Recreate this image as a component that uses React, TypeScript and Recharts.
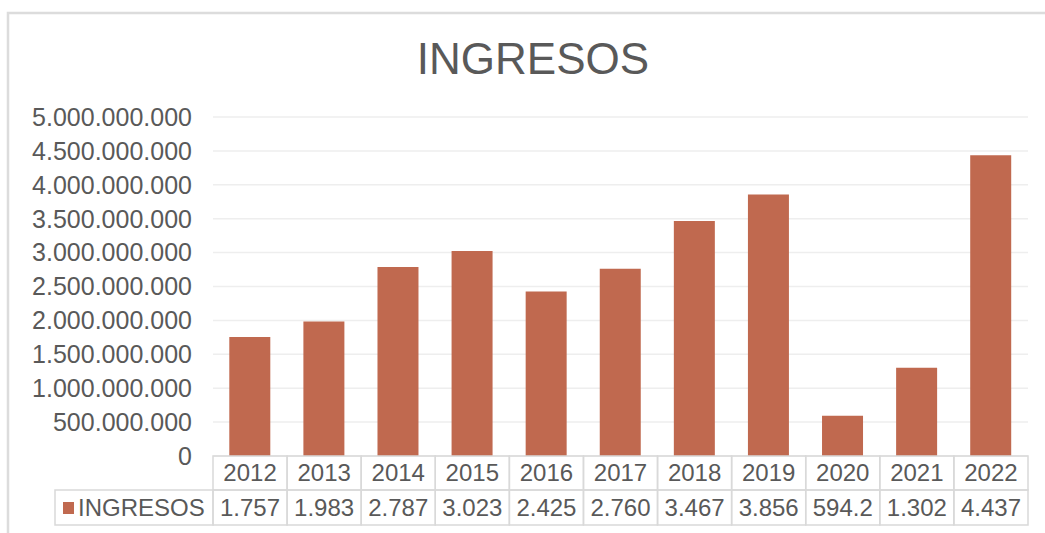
import { BarChart, Bar, XAxis, YAxis, CartesianGrid } from "recharts";

const years = ["2012", "2013", "2014", "2015", "2016", "2017", "2018", "2019", "2020", "2021", "2022"];
const ingresos = [
  1757000000, 1983000000, 2787000000, 3023000000, 2425000000, 2760000000,
  3467000000, 3856000000, 594200000, 1302000000, 4437000000,
];
const yTicks = [0, 500000000, 1000000000, 1500000000, 2000000000, 2500000000, 3000000000, 3500000000, 4000000000, 4500000000, 5000000000];

const data = years.map((year, i) => ({ year, ingresos: ingresos[i] }));

const barColor = "#c0694f";
const textColor = "#595959";
const gridColor = "#eeeeee";
const borderColor = "#d9d9d9";
const font = "'Liberation Sans', Arial, sans-serif";

const fmt = (v: number) => String(Math.round(v)).replace(/\B(?=(\d{3})+(?!\d))/g, ".");

function TableTick(props: any) {
  const { x, payload, index, width, visibleTicksCount } = props;
  const cell = width / visibleTicksCount;
  const left = x - cell / 2;
  const top = 456;
  const mid = 490;
  const bottom = 525;
  const value = ingresos[index];
  return (
    <g>
      <rect x={left} y={top} width={cell} height={mid - top} fill="none" stroke={borderColor} strokeWidth={1.5} />
      <rect x={left} y={mid} width={cell} height={bottom - mid} fill="none" stroke={borderColor} strokeWidth={1.5} />
      <text x={x} y={(top + mid) / 2 + 8} textAnchor="middle" fontSize={24} fill={textColor} fontFamily={font}>
        {payload.value}
      </text>
      <text x={x} y={(mid + bottom) / 2 + 8} textAnchor="middle" fontSize={24} fill={textColor} fontFamily={font}>
        {fmt(value).slice(0, 5)}
      </text>
      {index === 0 && (
        <g>
          <rect x={55} y={mid} width={left - 55} height={bottom - mid} fill="none" stroke={borderColor} strokeWidth={1.5} />
          <rect x={63} y={502} width={11} height={12} fill={barColor} />
          <text x={78} y={(mid + bottom) / 2 + 8} fontSize={24} fill={textColor} fontFamily={font}>
            INGRESOS
          </text>
        </g>
      )}
    </g>
  );
}

export default function App() {
  return (
    <div style={{ position: "absolute", left: 0, top: 0, width: 1045, height: 533, background: "#fff" }}>
      <svg width={1045} height={533} style={{ position: "absolute", left: 0, top: 0 }}>
        <rect x={8} y={13} width={1100} height={600} fill="none" stroke="#dcdcdc" strokeWidth={2.5} />
        <text x={533} y={74} textAnchor="middle" fontSize={44} fill={textColor} fontFamily={font}>
          INGRESOS
        </text>
      </svg>
      <div style={{ position: "absolute", left: 0, top: 0 }}>
        <BarChart
          width={1045}
          height={533}
          data={data}
          margin={{ top: 117, right: 17, bottom: 0, left: 0 }}
          barCategoryGap="22%"
        >
          <CartesianGrid vertical={false} stroke={gridColor} strokeWidth={1.5} />
          <YAxis
            width={213}
            domain={[0, 5000000000]}
            ticks={yTicks}
            tickFormatter={fmt}
            axisLine={false}
            tickLine={false}
            tickSize={0}
            tickMargin={21}
            interval={0}
            tick={{ fill: textColor, fontSize: 25, fontFamily: font }}
          />
          <XAxis
            dataKey="year"
            height={77}
            axisLine={false}
            tickLine={false}
            interval={0}
            tick={<TableTick />}
          />
          <Bar dataKey="ingresos" fill={barColor} isAnimationActive={false} />
        </BarChart>
      </div>
    </div>
  );
}
